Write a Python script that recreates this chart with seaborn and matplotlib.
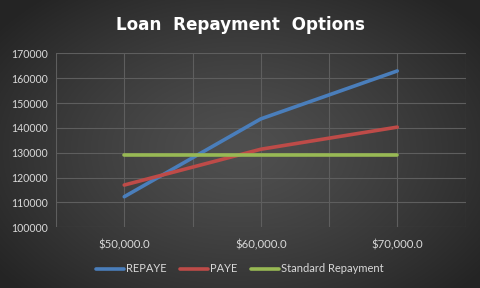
import numpy as np
import pandas as pd
import matplotlib
matplotlib.use("Agg")
import matplotlib.pyplot as plt
import seaborn as sns
from matplotlib.lines import Line2D

categories = ["$50,000.0", "$60,000.0", "$70,000.0"]
repaye = [112300, 143600, 162900]
paye = [117000, 131400, 140300]
standard = [129100, 129100, 129100]
series_names = ["REPAYE", "PAYE", "Standard Repayment"]
colors = ["#4A7EBB", "#BE4B48", "#98B954"]
yticks = [100000, 110000, 120000, 130000, 140000, 150000, 160000, 170000]

df = pd.DataFrame({
    "x": list(range(len(categories))) * 3,
    "value": repaye + paye + standard,
    "series": [series_names[0]] * 3 + [series_names[1]] * 3 + [series_names[2]] * 3,
})

sns.set_theme(style="dark")
plt.rcParams["font.family"] = ["Lato", "DejaVu Sans"]
text_color = "#D9D9D9"

fig = plt.figure(figsize=(4.8, 2.88), dpi=100)

# radial gradient background
bg = fig.add_axes([0, 0, 1, 1], zorder=-10)
W, H = 480, 288
yy, xx = np.mgrid[0:H, 0:W]
r = np.sqrt(((xx - 240) / 300.0) ** 2 + ((yy - 150) / 200.0) ** 2)
r = np.clip(r, 0, 1)
val = 0.31 - (0.31 - 0.145) * r ** 1.3
img = np.dstack([val, val, val])
bg.imshow(img, aspect="auto", extent=[0, 1, 0, 1], origin="upper")
bg.set_axis_off()

ax = fig.add_axes([56 / W, 1 - 227.3 / H, (465.5 - 56) / W, (227.3 - 53.3) / H])
ax.set_facecolor("none")

sns.lineplot(data=df, x="x", y="value", hue="series", palette=colors,
             linewidth=2.6, ax=ax, legend=False, solid_capstyle="round")

ax.set_xlim(-0.5, 2.5)
ax.set_ylim(100000, 170000)
ax.set_yticks(yticks)
ax.set_yticklabels([str(v) for v in yticks], color=text_color, fontsize=7.6)
ax.set_xticks([-0.5, 0, 0.5, 1, 1.5, 2, 2.5])
ax.set_xticklabels(["", categories[0], "", categories[1], "", categories[2], ""],
                   color=text_color, fontsize=8.2)
ax.tick_params(axis="both", length=0)
ax.tick_params(axis="x", pad=9)
ax.tick_params(axis="y", pad=6)
ax.grid(True, color="#5E5E5E", linewidth=0.8)
ax.set_axisbelow(True)
for s in ax.spines.values():
    s.set_visible(False)
ax.set_xlabel("")
ax.set_ylabel("")

fig.text(0.5, 1 - 25 / H, "Loan  Repayment  Options", ha="center", va="center",
         color="white", fontsize=12.1, fontweight="bold", family="DejaVu Sans")

handles = [Line2D([0], [0], color=c, linewidth=2.6) for c in colors]
fig.legend(handles, series_names, loc="center", bbox_to_anchor=(0.5, 1 - 269 / H),
           ncol=3, frameon=False, fontsize=8.0, labelcolor=text_color,
           handlelength=2.5, handletextpad=0.2, columnspacing=1.2)

fig.savefig("out.png", dpi=100)
